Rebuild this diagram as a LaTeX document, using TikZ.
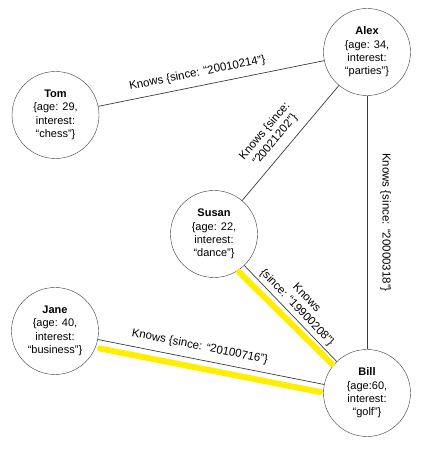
\documentclass[tikz,border=0pt]{standalone}
\usepackage{fontspec}
\setmainfont{Liberation Sans}
\usepackage{xcolor}
\usetikzlibrary{positioning}

\definecolor{hilite}{RGB}{255,238,0}
\definecolor{edgegray}{RGB}{60,60,60}

\tikzset{
  person/.style={draw=edgegray, circle, minimum size=87pt, inner sep=0pt, align=center,
    font=\fontsize{11}{13.3}\selectfont},
  knows/.style={draw=edgegray, line width=0.7pt},
  rel/.style={font=\fontsize{11.5}{13.5}\selectfont, align=center, inner sep=3pt},
  glow/.style={draw=hilite, line width=6pt, line cap=round}
}

\begin{document}
\begin{tikzpicture}[x=1pt, y=1pt]
        \useasboundingbox (0, 0) rectangle (443, 449);
        % people
        \node[person] (tom) at (55.5, 334) {\textbf{Tom}\\\{age: 29,\\interest:\\“chess”\}};
        \node[person] (alex) at (367, 397) {\textbf{Alex}\\\{age: 34,\\interest:\\“parties”\}};
        \node[person] (susan) at (214, 215) {\textbf{Susan}\\\{age: 22,\\interest:\\“dance”\}};
        \node[person] (jane) at (55, 118) {\textbf{Jane}\\\{age: 40,\\interest:\\“business”\}};
        \node[person] (bill) at (367, 56) {\textbf{Bill}\\\{age:60,\\interest:\\“golf”\}};
        % highlighted path
        \draw[glow] (239, 177) -- (332, 85);
        \draw[glow] (100, 100.5) -- (320, 57);
        % relations
        \draw[knows] (tom) -- (alex) node [rel, sloped, above=4pt, pos=0.45] {Knows \{since: “20010214”\}};
        \draw[knows] (susan) -- (alex) node [rel, sloped, above=5pt, pos=0.45] {Knows \{since:\\“20021202”\}};
        \draw[knows] (alex) -- (bill) node [rel, rotate=-90, anchor=south, yshift=10pt, pos=0.5] {Knows \{since: “20000318”\}};
        \draw[knows] (susan) -- (bill) node [rel, sloped, above, pos=0.5] {Knows\\\{since: “19900208”\}};
        \draw[knows] (jane) -- (bill) node [rel, sloped, above=4pt, pos=0.44] {Knows \{since: “20100716”\}};
\end{tikzpicture}
\end{document}
